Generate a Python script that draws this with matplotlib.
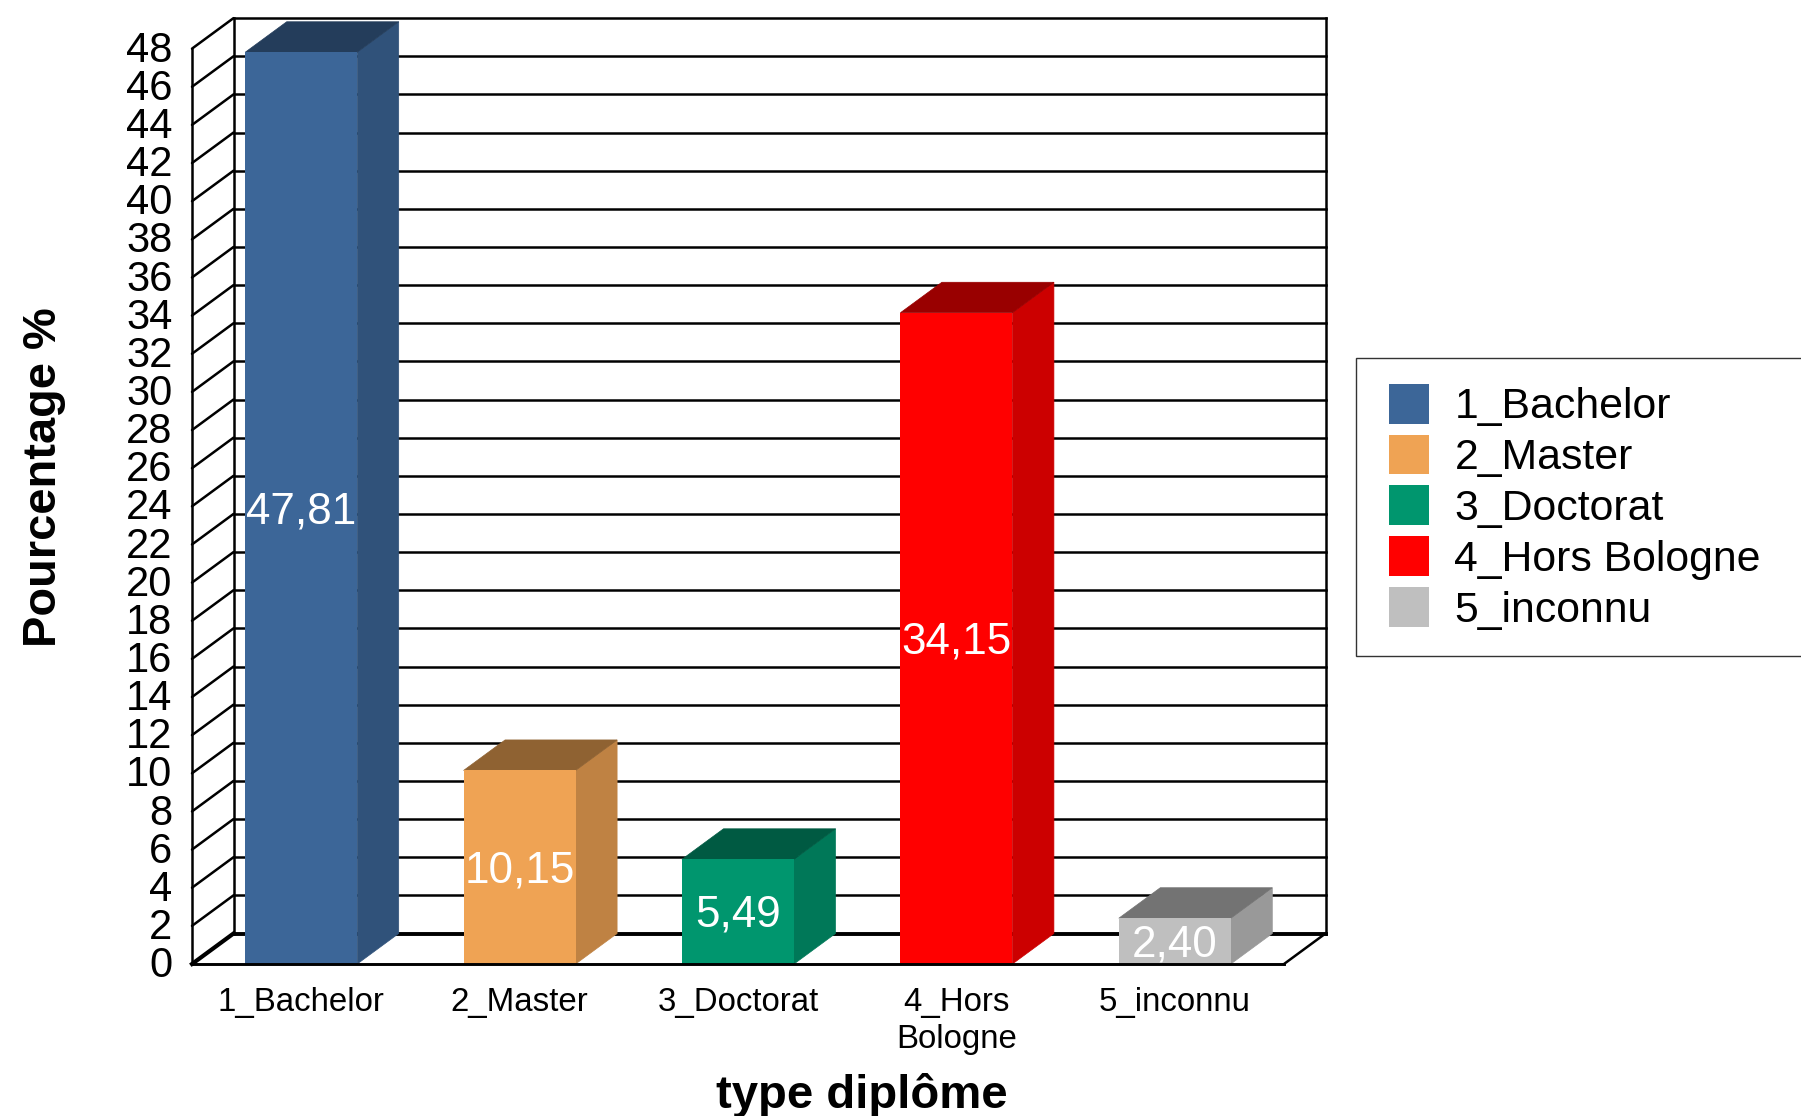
import matplotlib
matplotlib.use("Agg")
import matplotlib.pyplot as plt
from matplotlib.patches import Patch
from matplotlib.colors import to_rgb
from matplotlib.legend_handler import HandlerPatch
from matplotlib.transforms import ScaledTranslation

categories = ["1_Bachelor", "2_Master", "3_Doctorat", "4_Hors Bologne", "5_inconnu"]
tick_labels = ["1_Bachelor", "2_Master", "3_Doctorat", "4_Hors\nBologne", "5_inconnu"]
values = [47.81, 10.15, 5.49, 34.15, 2.40]
value_labels = ["47,81", "10,15", "5,49", "34,15", "2,40"]
colors = ["#3C6698", "#EFA354", "#00966E", "#FF0000", "#BFBFBF"]
y_ticks = list(range(0, 50, 2))

W, H = 1801, 1116
# zone du graphique en pixels (face avant + profondeur)
left_px, right_px = 192, 1327
top_px, bottom_px = 17, 964
cat_px = 218.4   # largeur d'une categorie
unit_px = 19.07  # pixels pour 1 %

plt.rcParams['font.family'] = ['Liberation Sans', 'DejaVu Sans']

depth_x = 41.5 / cat_px
depth_y = 30.5 / unit_px
bar_w = 112 / cat_px
n = len(categories)
y_max = y_ticks[-1]


def shade(color, k):
    return tuple(c * k for c in to_rgb(color))


fig = plt.figure(figsize=(W / 100, H / 100), dpi=100)
ax = fig.add_axes([left_px / W, 1 - bottom_px / H, (right_px - left_px) / W, (bottom_px - top_px) / H])
ax.set_xlim(0, (right_px - left_px) / cat_px)
ax.set_ylim(0, (bottom_px - top_px) / unit_px)
for s in ax.spines.values():
    s.set_visible(False)

LW = 1.8
# grille : paroi gauche et paroi du fond
for v in y_ticks:
    ax.plot([0, depth_x], [v, v + depth_y], color="k", lw=LW, clip_on=False, zorder=1, solid_capstyle="round")
    if v > 0:
        ax.plot([depth_x, n + depth_x], [v + depth_y, v + depth_y], color="k", lw=LW, clip_on=False, zorder=1)
ax.plot([0, 0], [0, y_max], color="k", lw=LW, clip_on=False, zorder=1)
ax.plot([depth_x, depth_x], [depth_y, y_max + depth_y], color="k", lw=LW, clip_on=False, zorder=1)
ax.plot([n + depth_x, n + depth_x], [depth_y, y_max + depth_y], color="k", lw=LW, clip_on=False, zorder=1)
# sol
ax.plot([depth_x, n + depth_x], [depth_y, depth_y], color="k", lw=2.8, clip_on=False, zorder=1)
ax.plot([0, depth_x], [0, depth_y], color="k", lw=3, clip_on=False, zorder=1)
ax.plot([n, n + depth_x], [0, depth_y], color="k", lw=LW, clip_on=False, zorder=1)

# barres 3D
xs = [i + 0.5 for i in range(n)]
ax.bar(xs, values, width=bar_w, color=colors, zorder=3)
for x, v, c, lab in zip(xs, values, colors, value_labels):
    x0, x1 = x - bar_w / 2, x + bar_w / 2
    side = shade(c, 0.8)
    top = shade(c, 0.6)
    ax.fill([x1, x1 + depth_x, x1 + depth_x, x1], [0, depth_y, v + depth_y, v], fc=side, ec=side, lw=0.5, zorder=2)
    ax.fill([x0, x1, x1 + depth_x, x0 + depth_x], [v, v, v + depth_y, v + depth_y], fc=top, ec=top, lw=0.5, zorder=2)
    ax.annotate(lab, (x, v / 2), xytext=(0, -2.5), textcoords="offset points", color="white",
                fontsize=31.7, ha="center", va="center", zorder=5)

ax.plot([0, n], [0, 0], color="k", lw=LW + 0.3, clip_on=False, zorder=4)

ax.set_yticks(y_ticks)
ax.set_yticklabels([str(v) for v in y_ticks], fontsize=30)
ax.set_xticks(xs)
ax.set_xticklabels(tick_labels, fontsize=23.8, linespacing=1.24)
ax.tick_params(axis="y", length=0, pad=14)
ax.tick_params(axis="x", length=0, pad=16.5)
# les chiffres de l'axe y sont un peu plus hauts
for lab in ax.get_yticklabels():
    lab.set_transform(lab.get_transform() + ScaledTranslation(0, 1.7 / 72, fig.dpi_scale_trans))

ax.set_xlabel("type diplôme", fontsize=34, fontweight="bold", va="center")
ax.xaxis.set_label_coords((862 - left_px) / (right_px - left_px), -(1096 - bottom_px) / (bottom_px - top_px))
ax.set_ylabel("Pourcentage %", fontsize=33.8, fontweight="bold", va="center")
ax.yaxis.set_label_coords(-(left_px - 44) / (right_px - left_px), (bottom_px - 477) / (bottom_px - top_px))

handles = [Patch(facecolor=c, edgecolor="none", label=lab) for c, lab in zip(colors, categories)]
leg = fig.legend(handles=handles, loc="upper left", mode="expand", ncols=1,
                 bbox_to_anchor=(1356 / W, 1 - 653 / H, 600 / W, 295 / H),
                 bbox_transform=fig.transFigure, borderaxespad=0, fontsize=30.8,
                 fancybox=False, framealpha=1, edgecolor="#333333",
                 handlelength=1.1, handleheight=1.06, handletextpad=0.6,
                 labelspacing=0.17, borderpad=0.6,
                 handler_map={Patch: HandlerPatch(xpad=0.163)})
leg.get_frame().set_linewidth(1)

fig.savefig("out.png", dpi=100)
